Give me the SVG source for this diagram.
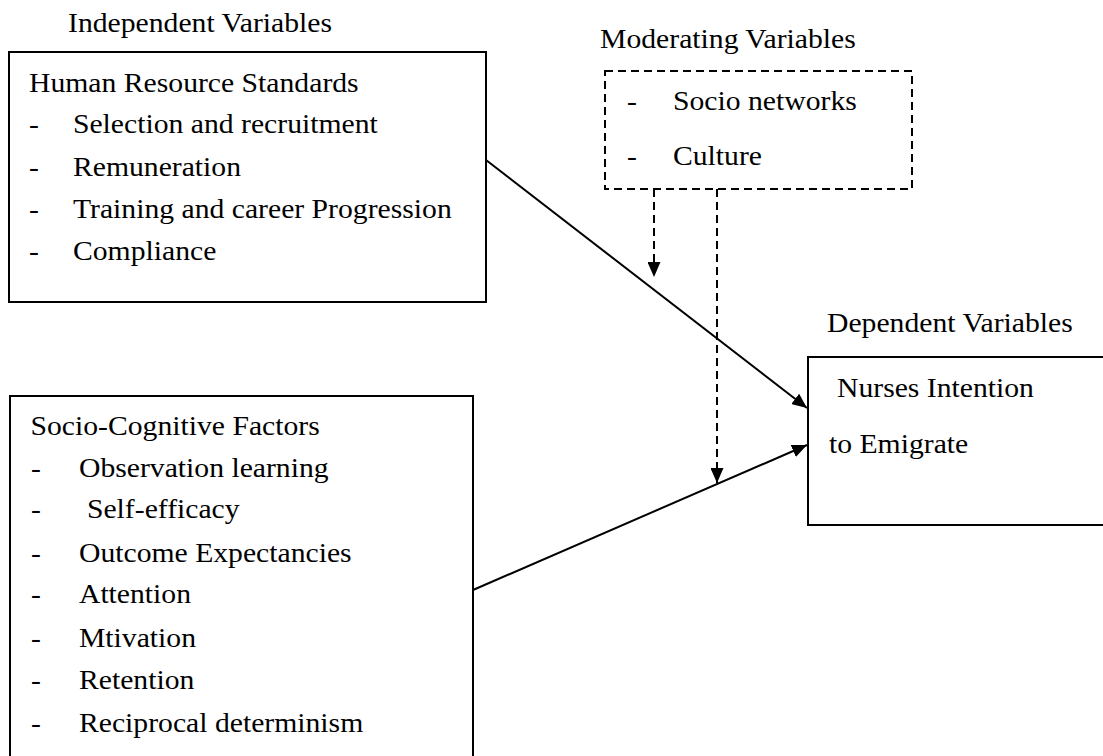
<svg xmlns="http://www.w3.org/2000/svg" width="1103" height="756" viewBox="0 0 1103 756">
<style>
  .box{fill:none;stroke:#000;stroke-width:2}
  .dash{stroke-dasharray:8 5}
  .ln{stroke:#000;stroke-width:2;fill:none}
</style>
<defs>
  <marker id="ah" markerUnits="userSpaceOnUse" markerWidth="16" markerHeight="13" refX="15" refY="6.5" orient="auto">
    <path d="M0,0 L15,6.5 L0,13 z" fill="#000"/>
  </marker>
</defs>
<rect width="1103" height="756" fill="#fff"/>

<g id="hr-standards">
  <rect class="box" x="9" y="52" width="477" height="250"/>
  <g transform="scale(1.112,1)" font-family="Liberation Serif, Times New Roman, serif" font-size="26.7" fill="#000">
    <text x="61.2" y="32">Independent Variables</text>
    <text x="26.1" y="92">Human Resource Standards</text>
    <text x="26.1" y="133">-</text><text x="65.6" y="133">Selection and recruitment</text>
    <text x="26.1" y="176">-</text><text x="65.6" y="176">Remuneration</text>
    <text x="26.1" y="218">-</text><text x="65.6" y="218">Training and career Progression</text>
    <text x="26.1" y="260">-</text><text x="65.6" y="260">Compliance</text>
  </g>
</g>

<g id="moderating">
  <rect class="box dash" x="605" y="71" width="307" height="118"/>
  <g transform="scale(1.112,1)" font-family="Liberation Serif, Times New Roman, serif" font-size="26.7" fill="#000">
    <text x="539.6" y="48">Moderating Variables</text>
    <text x="563.8" y="110">-</text><text x="605.2" y="110">Socio networks</text>
    <text x="563.8" y="165">-</text><text x="605.2" y="165">Culture</text>
  </g>
</g>

<g id="socio-cognitive">
  <rect class="box" x="10" y="396" width="463" height="370"/>
  <g transform="scale(1.112,1)" font-family="Liberation Serif, Times New Roman, serif" font-size="26.7" fill="#000">
    <text x="27.4" y="435">Socio-Cognitive Factors</text>
    <text x="27.9" y="477">-</text><text x="71" y="477">Observation learning</text>
    <text x="27.9" y="518">-</text><text x="78.2" y="518">Self-efficacy</text>
    <text x="27.9" y="562">-</text><text x="71" y="562">Outcome Expectancies</text>
    <text x="27.9" y="603">-</text><text x="71" y="603">Attention</text>
    <text x="27.9" y="647">-</text><text x="71" y="647">Mtivation</text>
    <text x="27.9" y="689">-</text><text x="71" y="689">Retention</text>
    <text x="27.9" y="732">-</text><text x="71" y="732">Reciprocal determinism</text>
  </g>
</g>

<g id="dependent">
  <rect class="box" x="808" y="357" width="310" height="168"/>
  <g transform="scale(1.112,1)" font-family="Liberation Serif, Times New Roman, serif" font-size="26.7" fill="#000">
    <text x="743.7" y="332">Dependent Variables</text>
    <text x="752.7" y="397">Nurses Intention</text>
    <text x="745.5" y="453">to Emigrate</text>
  </g>
</g>

<g id="connectors">
  <line class="ln" x1="486" y1="160" x2="807" y2="408" marker-end="url(#ah)"/>
  <line class="ln" x1="473" y1="590" x2="807" y2="445" marker-end="url(#ah)"/>
  <line class="ln dash" x1="654" y1="189" x2="654" y2="277" marker-end="url(#ah)"/>
  <line class="ln dash" x1="717" y1="189" x2="717" y2="483" marker-end="url(#ah)"/>
</g>
</svg>
